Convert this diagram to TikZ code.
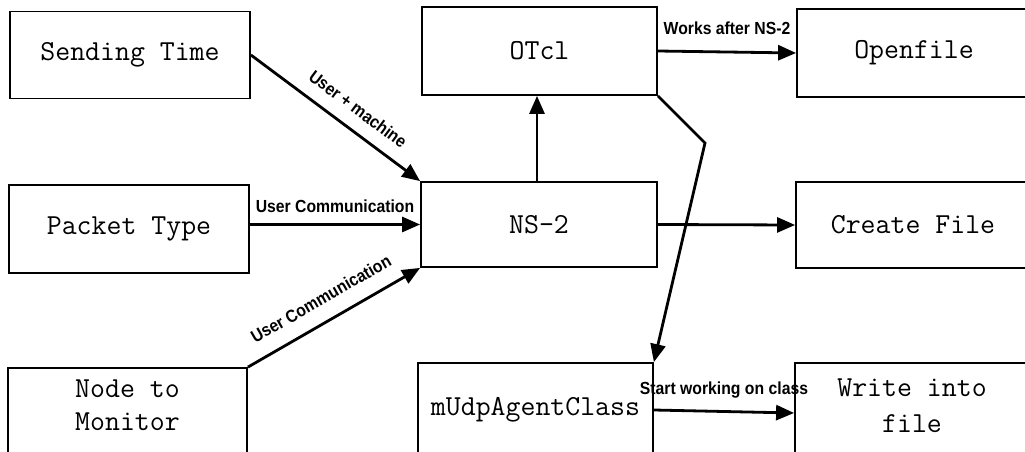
\documentclass[tikz,border=0pt]{standalone}
\usepackage{fontspec}
\usetikzlibrary{arrows.meta,calc,positioning}
\newfontfamily\lblfont[FakeStretch=0.9]{Liberation Sans}

\begin{document}
\begin{tikzpicture}[x=1pt,y=-1pt]

   \tikzstyle{arr}=[-{Triangle[length=18pt,width=15pt]},line width=2.8pt]
   \tikzstyle{every edge}=[draw,arr]
   \tikzstyle{box}=[draw,line width=1.8pt,align=center,inner sep=0pt,font=\ttfamily\fontsize{29}{33}\selectfont]
   \tikzstyle{lbl}=[font=\lblfont\bfseries\fontsize{17.5}{19}\selectfont,inner sep=3pt]

   \useasboundingbox (0,0) rectangle (1025,452);
   \clip (0,0) rectangle (1025,452);

    \node[box, minimum width=240pt, minimum height=87pt] (send) at (130,55) {Sending Time};
    \node[box, minimum width=240pt, minimum height=88pt] (pkt) at (129,229) {Packet Type};
    \node[box, minimum width=239pt, text height=62pt, text depth=38pt] (mon) at (127.5,418) {Node to\\Monitor};

    \node[box, minimum width=235pt, minimum height=88pt] (otcl) at (539.5,51) {OTcl};
    \node[box, minimum width=236pt, minimum height=85pt] (ns) at (539,224.5) {NS-2};
    \node[box, minimum width=235pt, minimum height=94pt] (mudp) at (535.5,410) {mUdpAgentClass};

    \node[box, minimum width=234pt, minimum height=88pt] (open) at (914,53) {Openfile};
    \node[box, minimum width=234pt, minimum height=86pt] (create) at (913,225) {Create File};
    \node[box, minimum width=234pt, text height=69pt, text depth=31pt] (write) at (912,413) {Write into\\[3pt]file};

    \coordinate (bend) at (705,143);

    \path (send.east) edge node[lbl,sloped,above=10pt,pos=.56] {User + machine} (ns.north west);
    \path (pkt.east |- ns.west) edge node[lbl,above=7pt] {User Communication} (ns.west);
    \path (mon.north east) edge node[lbl,sloped,above=12pt,pos=.49] {User Communication} (ns.south west);
    \path (ns.north -| 537,0) edge (otcl.south -| 537,0);
    \path (otcl.east) edge node[lbl,above=13pt] {Works after NS-2} (open.west);
    \path (ns.east) edge (create.west);
    \path (mudp.east) edge node[lbl,above=9pt] {Start working on class} (write.west);
    \draw[arr] (otcl.south east) -- (bend) -- (mudp.north east);

\end{tikzpicture}
\end{document}
